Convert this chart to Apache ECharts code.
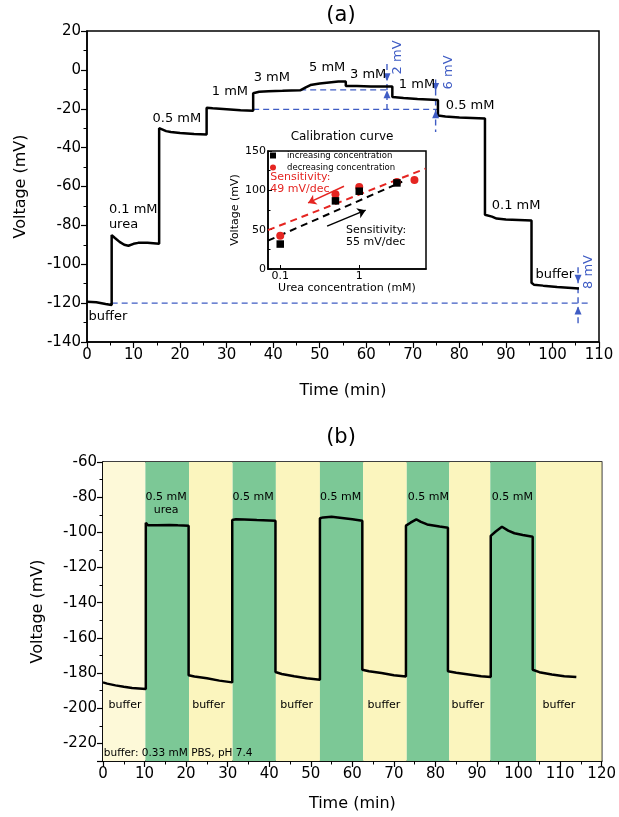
<!DOCTYPE html>
<html><head><meta charset="utf-8">
<script src="https://cdn.jsdelivr.net/npm/echarts@6/dist/echarts.min.js"></script>
<style>html,body{margin:0;padding:0;background:#fff}#c{width:619px;height:817px}</style>
</head><body><div id="c"></div>
<script>
const FONT = 'DejaVu Sans';
const BLUE = '#3f5cc4';
const RED = '#e52521';

// ---------- Panel (a): stepwise urea response ----------
const timeA = [0,2,4,5.3, 5.3,6,7,8,8.9,10,11,13,15.5, 15.5,16,17,18,20,23,25.7, 25.7,27,30,33,35.7, 35.7,37,39,42,45.8, 47,48,50,52,54,55.6, 55.6,58,61,65.6, 65.6,68,71,75.4, 75.4,77,80,85.5, 85.5,87,88,90,95.5, 95.5,96,98,101,105.7];
const voltA = [-119.3,-119.6,-120.5,-121, -85,-86.5,-88.5,-90,-90.5,-89.5,-89,-89,-89.5, -30,-30.5,-31.5,-32,-32.5,-33,-33.2, -19.5,-19.8,-20.3,-20.8,-21, -12,-11.3,-11,-10.8,-10.5, -9,-7.8,-7,-6.5,-6,-6, -8.3,-8.3,-8.5,-8.5, -14,-14.5,-15,-15.5, -23.5,-24,-24.5,-25, -74.5,-75.5,-76.5,-77,-77.5, -109.5,-110.5,-111,-111.7,-112.5];

const labelAText = ['buffer','0.1 mM\nurea','0.5 mM','1 mM','3 mM','5 mM','3 mM','1 mM','0.5 mM','0.1 mM','buffer'];
const labelAX = [4.5, 4.7, 19.3, 30.7, 39.7, 51.6, 60.4, 70.9, 82.3, 92.2, 100.5];
const labelAY = [-127, -75.9, -25, -11.1, -3.9, 1.2, -2.4, -7.5, -18.3, -69.7, -105.2];

// guide lines [x1, y1, x2, y2]
const guideA = [[5.3,-120,108,-120],[35.7,-20.3,75.2,-20.3],[45.8,-10.3,64.6,-10.3],[64.45,3,64.45,-22],[74.9,-5,74.9,-32],[105.5,-101.5,105.5,-132]];
const arrowAX = [64.45,64.45,74.9,74.9,105.5,105.5];
const arrowAY = [-3.8,-12.5,-8.8,-22.8,-107.5,-123.8];
const arrowAUp = [false,true,false,true,false,true];
const dimText = ['2 mV','6 mV','8 mV'];
const dimX = [66.8, 77.8, 107.8];
const dimY = [6.4, -1.3, -104];

// ---------- Inset: calibration curve ----------
const concInc = [0.1, 0.5, 1, 3];
const voltInc = [31.7, 86.6, 98.9, 109.4];
const concDec = [0.1, 0.5, 1, 3, 5];
const voltDec = [42.2, 95, 104.3, 110.7, 113.2];
const fitIncX = [0.07, 3.5], fitIncY = [36, 111];
const fitDecX = [0.07, 6.9], fitDecY = [49.4, 127.6];
const arrowRedX = [0.641, 0.225], arrowRedY = [105.2, 84];
const arrowBlkX = [0.392, 1.205], arrowBlkY = [54.5, 74.8];
const insetText = ['Sensitivity:\n49 mV/dec', 'Sensitivity:\n55 mV/dec'];
const insetTextX = [0.0748, 0.68];
const insetTextY = [109.6, 42.4];
const insetTextColor = [RED, '#000'];

// ---------- Panel (b): repeated switching ----------
const timeB = [0,1,3,5,7,10.3, 10.3,10.8,13,16,18,20.6, 20.6,22,25,28,31.1, 31.1,32,34,37,41.5, 41.5,43,46,49,52.2, 52.2,53,55,57,60,62.4, 62.4,64,67,70,72.9, 72.9,74,75.4,76.5,78,81,83, 83,85,88,91,93.3, 93.3,94.5,96,97.5,99,101,103.4, 103.4,105,108,111,113.9];
const voltB = [-185.3,-186,-187,-187.8,-188.5,-189, -94.5,-96,-96,-95.8,-96,-96.2, -181.3,-182,-183,-184.3,-185.3, -93,-92.5,-92.7,-93,-93.4, -179.4,-180.5,-181.8,-183,-183.8, -92,-91.5,-91.1,-91.7,-92.6,-93.4, -178.1,-179,-180,-181.2,-181.9, -96.2,-94.5,-92.6,-94,-95.5,-96.7,-97.4, -179,-179.8,-180.8,-181.8,-182.3, -102,-99.5,-96.8,-99,-100.5,-101.5,-102.5, -178.1,-179.5,-180.8,-181.8,-182.3];
const bandEdges = [0, 10.2, 20.7, 31.2, 41.6, 52.2, 62.6, 73.1, 83.3, 93.2, 104.2, 120];
const bandKind = ['pale','green','yellow','green','yellow','green','yellow','green','yellow','green','yellow'];
const bandColor = {pale:'#fdf9d8', yellow:'#fbf5be', green:'#7cc896'};
const bufX = [5.3, 25.4, 46.6, 67.6, 87.8, 109.7];
const bufY = -198;
const ureaX = [15.2, 36.1, 57.2, 78.3, 98.5];
const ureaText = ['0.5 mM\nurea','0.5 mM','0.5 mM','0.5 mM','0.5 mM'];
const ureaY = [-83.4, -80, -80, -80, -80];
const noteB = 'buffer: 0.33 mM PBS, pH 7.4';

const zip = (xs, ys) => xs.map((x, i) => [x, ys[i]]);

function textSeries(xi, yi, items, common) {
  return {
    type: 'scatter', xAxisIndex: xi, yAxisIndex: yi, symbolSize: 0,
    itemStyle: {color: 'transparent'}, silent: true, z: 10,
    label: Object.assign({show: true, position: 'inside', color: '#000', opacity: 1, textBorderWidth: 0,
      fontFamily: FONT, fontSize: 13, formatter: p => p.data.t}, common),
    data: items
  };
}

const axisBase = {
  axisLine: {show: true, onZero: false, lineStyle: {color: '#000', width: 1.5}},
  axisTick: {show: true, length: 6, lineStyle: {color: '#000', width: 1.2}},
  minorTick: {show: true, splitNumber: 2, length: 3.5, lineStyle: {color: '#000', width: 1}},
  splitLine: {show: false},
  axisLabel: {color: '#000', fontFamily: FONT, fontSize: 15, margin: 6},
  nameLocation: 'middle',
  nameTextStyle: {color: '#000', fontFamily: FONT, fontSize: 16}
};
const ax = o => Object.assign({}, JSON.parse(JSON.stringify(axisBase)), o);

const series = [];
// Panel (a) trace
series.push({type: 'line', xAxisIndex: 0, yAxisIndex: 0, data: zip(timeA, voltA), showSymbol: false,
  lineStyle: {color: '#000', width: 2.5}, z: 5, silent: true});
guideA.forEach(g => series.push({type: 'line', xAxisIndex: 0, yAxisIndex: 0, data: [[g[0], g[1]], [g[2], g[3]]],
  showSymbol: false, lineStyle: {color: BLUE, width: 1.4, type: [6, 4]}, z: 4, silent: true}));
series.push({type: 'scatter', xAxisIndex: 0, yAxisIndex: 0, symbol: 'triangle', symbolSize: [7, 8], silent: true, z: 6,
  itemStyle: {color: BLUE, opacity: 1},
  data: arrowAX.map((x, i) => ({value: [x, arrowAY[i]], symbolRotate: arrowAUp[i] ? 0 : 180}))});
series.push(textSeries(0, 0, labelAText.map((t, i) => {
  const d = {value: [labelAX[i], labelAY[i]], t: t};
  if (t.indexOf('\n') >= 0) d.label = {align: 'left', lineHeight: 15};
  return d;
}), {}));
series.push(textSeries(0, 0, dimText.map((t, i) => ({value: [dimX[i], dimY[i]], t: t})),
  {color: BLUE, rotate: 90, fontSize: 13}));

// Inset
series.push({type: 'line', xAxisIndex: 1, yAxisIndex: 1, data: zip(fitIncX, fitIncY), showSymbol: false,
  lineStyle: {color: '#000', width: 2, type: [7, 5]}, silent: true, z: 3});
series.push({type: 'line', xAxisIndex: 1, yAxisIndex: 1, data: zip(fitDecX, fitDecY), showSymbol: false,
  lineStyle: {color: RED, width: 2, type: [7, 5]}, silent: true, z: 3});
series.push({name: 'increasing concentration', type: 'scatter', xAxisIndex: 1, yAxisIndex: 1, symbol: 'rect', symbolSize: 7.5,
  itemStyle: {color: '#000', opacity: 1}, data: zip(concInc, voltInc), z: 5});
series.push({name: 'decreasing concentration', type: 'scatter', xAxisIndex: 1, yAxisIndex: 1, symbol: 'circle', symbolSize: 8,
  itemStyle: {color: RED, opacity: 1}, data: zip(concDec, voltDec), z: 4});
series.push({type: 'lines', coordinateSystem: 'cartesian2d', xAxisIndex: 1, yAxisIndex: 1, silent: true, z: 6,
  symbol: ['none', 'arrow'], symbolSize: 8,
  data: [
    {coords: zip(arrowRedX, arrowRedY), lineStyle: {color: RED, width: 1.5, opacity: 1}},
    {coords: zip(arrowBlkX, arrowBlkY), lineStyle: {color: '#000', width: 1.5, opacity: 1}}
  ]});
series.push(textSeries(1, 1, insetText.map((t, i) => ({value: [insetTextX[i], insetTextY[i]], t: t,
  label: {color: insetTextColor[i]}})), {align: 'left', fontSize: 11, lineHeight: 12}));

// Panel (b)
series.push({type: 'line', xAxisIndex: 2, yAxisIndex: 2, data: [], silent: true, z: 1,
  markArea: {silent: true, data: bandKind.map((k, i) => [
    {xAxis: bandEdges[i], itemStyle: {color: bandColor[k], opacity: 1}}, {xAxis: bandEdges[i + 1]}])}});
series.push({type: 'line', xAxisIndex: 2, yAxisIndex: 2, data: zip(timeB, voltB), showSymbol: false,
  lineStyle: {color: '#000', width: 2.5}, z: 5, silent: true});
series.push(textSeries(2, 2, bufX.map(x => ({value: [x, bufY], t: 'buffer'})), {fontSize: 11}));
series.push(textSeries(2, 2, ureaX.map((x, i) => ({value: [x, ureaY[i]], t: ureaText[i]})), {fontSize: 11, lineHeight: 13}));
series.push(textSeries(2, 2, [{value: [0.2, -225.5], t: noteB}], {fontSize: 10.5, align: 'left'}));

const option = {
  animation: false,
  backgroundColor: '#fff',
  graphic: [
    {type: 'text', x: 341, y: 16, style: {text: '(a)', font: '21px "DejaVu Sans"', fill: '#000', textAlign: 'center', textVerticalAlign: 'middle'}},
    {type: 'text', x: 341, y: 438, style: {text: '(b)', font: '21px "DejaVu Sans"', fill: '#000', textAlign: 'center', textVerticalAlign: 'middle'}},
    {type: 'text', x: 342, y: 137, z: 20, style: {text: 'Calibration curve', font: '12px "DejaVu Sans"', fill: '#000', textAlign: 'center', textVerticalAlign: 'middle'}}
  ],
  legend: {
    data: [{name: 'increasing concentration', icon: 'rect'}, {name: 'decreasing concentration', icon: 'circle'}],
    orient: 'vertical', left: 270, top: 151, padding: 0, itemGap: 3, itemWidth: 6, itemHeight: 6, z: 12,
    textStyle: {fontFamily: FONT, fontSize: 8.5, color: '#000', padding: [0, 0, 0, 6]}, selectedMode: false
  },
  grid: [
    {left: 87, top: 31, width: 512, height: 311, show: true, borderColor: '#000', borderWidth: 1.5, backgroundColor: 'transparent'},
    {left: 268, top: 151, width: 158, height: 118, show: true, borderColor: '#000', borderWidth: 1.5, backgroundColor: '#fff'},
    {left: 103, top: 462, width: 503, height: 299, show: true, borderColor: '#000', borderWidth: 1.5, backgroundColor: 'transparent'}
  ],
  xAxis: [
    ax({gridIndex: 0, type: 'value', min: 0, max: 110, interval: 10, name: 'Time (min)', nameGap: 41}),
    ax({gridIndex: 1, type: 'log', logBase: 10, min: 0.07, max: 7, name: 'Urea concentration (mM)', nameGap: 14,
      axisTick: {show: true, inside: true, length: 4, lineStyle: {color: '#000', width: 1}},
      minorTick: {show: false},
      axisLabel: {color: '#000', fontFamily: FONT, fontSize: 11, margin: 2, showMinLabel: false, showMaxLabel: false,
        formatter: v => String(+(+v).toPrecision(3))},
      nameTextStyle: {color: '#000', fontFamily: FONT, fontSize: 11}}),
    ax({gridIndex: 2, type: 'value', min: 0, max: 120, interval: 10, name: 'Time (min)', nameGap: 35})
  ],
  yAxis: [
    ax({gridIndex: 0, type: 'value', min: -140, max: 20, interval: 20, name: 'Voltage (mV)', nameGap: 58}),
    ax({gridIndex: 1, type: 'value', min: 0, max: 150, interval: 50, name: 'Voltage (mV)', nameGap: 27,
      axisTick: {show: true, inside: true, length: 4, lineStyle: {color: '#000', width: 1}},
      minorTick: {show: true, inside: true, splitNumber: 2, length: 2.5, lineStyle: {color: '#000', width: 1}},
      axisLabel: {color: '#000', fontFamily: FONT, fontSize: 11, margin: 2},
      nameTextStyle: {color: '#000', fontFamily: FONT, fontSize: 11}}),
    ax({gridIndex: 2, type: 'value', min: -230, max: -60, minInterval: 20, maxInterval: 20, name: 'Voltage (mV)', nameGap: 57,
      axisLabel: {color: '#000', fontFamily: FONT, fontSize: 15, margin: 6, showMinLabel: false}})
  ],
  series: series
};
const chart = echarts.init(document.getElementById('c'), null, {renderer: 'canvas'});
chart.setOption(option);
</script></body></html>
